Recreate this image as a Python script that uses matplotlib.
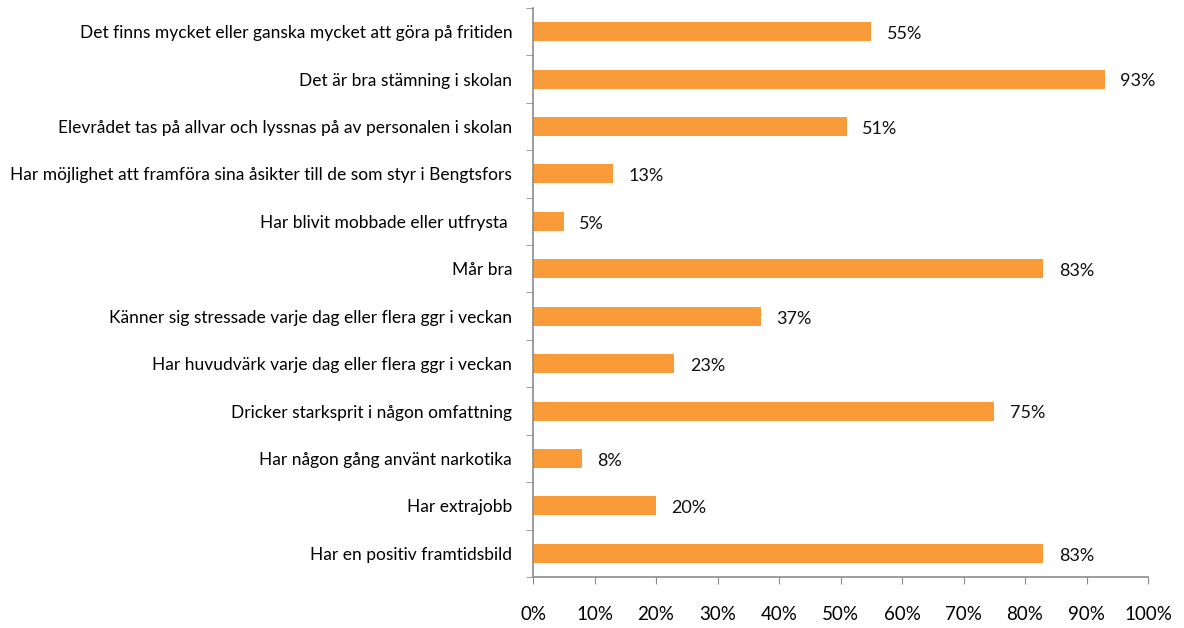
import matplotlib.pyplot as plt
import numpy as np

plt.rcParams['font.family'] = ['Lato', 'DejaVu Sans']

# Categories from top to bottom
categories = [
    "Det finns mycket eller ganska mycket att göra på fritiden",
    "Det är bra stämning i skolan",
    "Elevrådet tas på allvar och lyssnas på av personalen i skolan",
    "Har möjlighet att framföra sina åsikter till de som styr i Bengtsfors",
    "Har blivit mobbade eller utfrysta ",
    "Mår bra",
    "Känner sig stressade varje dag eller flera ggr i veckan",
    "Har huvudvärk varje dag eller flera ggr i veckan",
    "Dricker starksprit i någon omfattning",
    "Har någon gång använt narkotika",
    "Har extrajobb",
    "Har en positiv framtidsbild",
]
values = [55, 93, 51, 13, 5, 83, 37, 23, 75, 8, 20, 83]
xticks = [0, 10, 20, 30, 40, 50, 60, 70, 80, 90, 100]

bar_color = '#F99B38'
axis_color = '#8C8C8C'

fig = plt.figure(figsize=(11.84, 6.28), dpi=100)
ax = fig.add_axes([0.4502, 0.0812, 0.5194, 0.9061])

y = np.arange(len(categories))
ax.barh(y, values, height=0.4, color=bar_color)
ax.set_ylim(len(categories) - 0.5, -0.5)
ax.set_xlim(0, 100)

for yi, v in zip(y, values):
    ax.text(v + 2.5, yi + 0.05, f"{v}%", va='center', ha='left', fontsize=13, color='#111111')

ax.set_xticks(xticks)
ax.set_xticklabels([f"{t}%" for t in xticks], fontsize=13.5)
ax.tick_params(axis='x', direction='out', length=5, color=axis_color, pad=16)

ax.set_yticks(np.arange(len(categories) + 1) - 0.5, minor=True)
ax.set_yticks(y)
ax.set_yticklabels(categories, fontsize=12.5)
ax.tick_params(axis='y', which='major', length=0, pad=15)
ax.tick_params(axis='y', which='minor', direction='out', length=5, color=axis_color)

for side in ['top', 'right']:
    ax.spines[side].set_visible(False)
for side in ['left', 'bottom']:
    ax.spines[side].set_color(axis_color)
    ax.spines[side].set_linewidth(1.2)

fig.savefig('out.png', dpi=100)
